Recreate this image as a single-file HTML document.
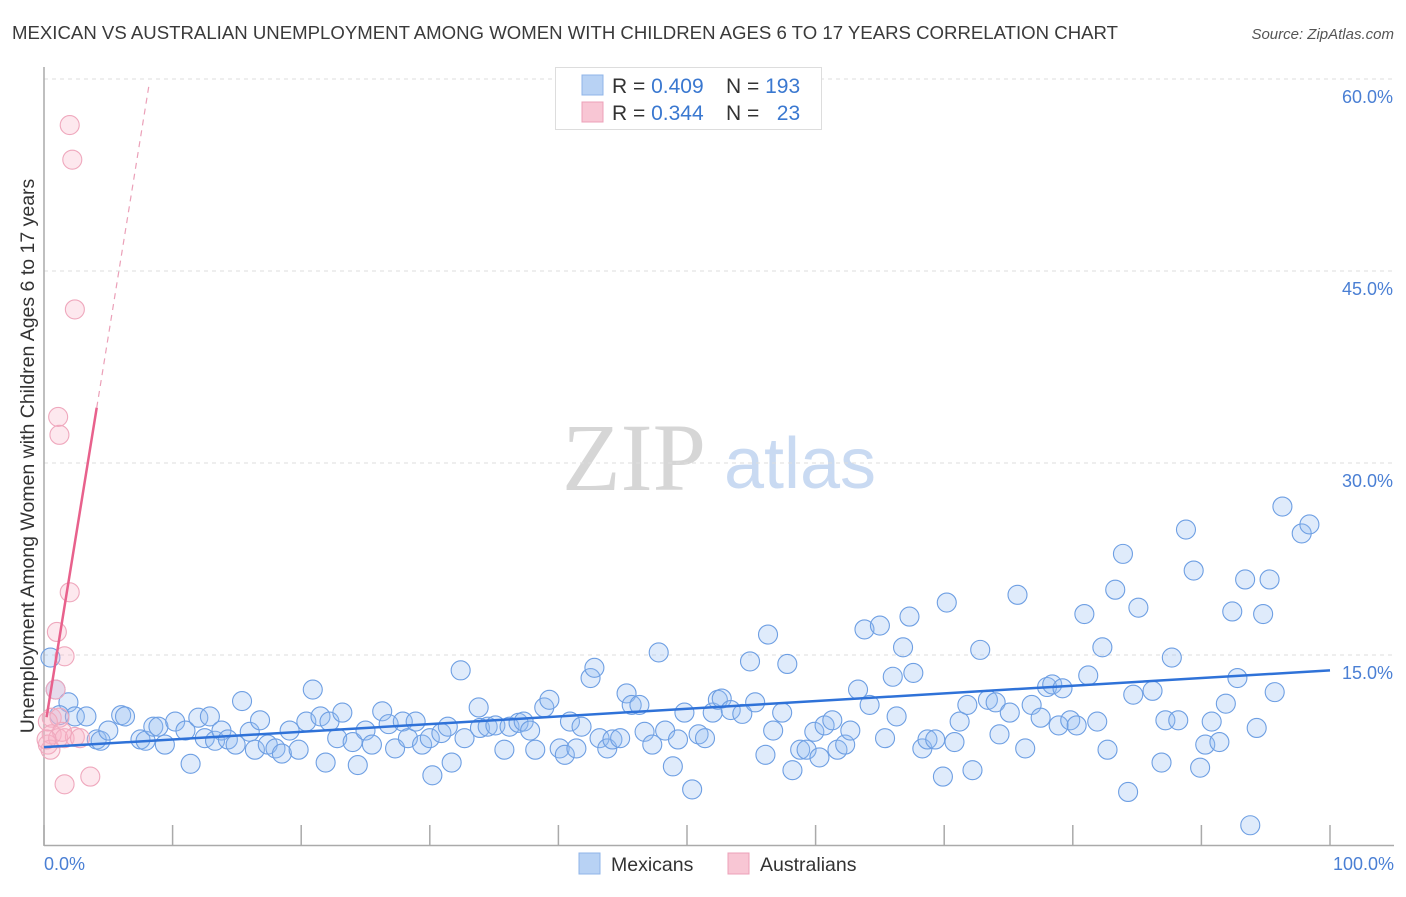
<!DOCTYPE html>
<html><head><meta charset="utf-8"><style>
html,body{margin:0;padding:0;background:#fff;}
body{width:1406px;height:892px;overflow:hidden;font-family:"Liberation Sans",sans-serif;}
</style></head><body>
<svg id="chart" width="1406" height="892" xmlns="http://www.w3.org/2000/svg">
<text x="12" y="39" font-size="18" fill="#3a3a3a" textLength="1106" lengthAdjust="spacingAndGlyphs">MEXICAN VS AUSTRALIAN UNEMPLOYMENT AMONG WOMEN WITH CHILDREN AGES 6 TO 17 YEARS CORRELATION CHART</text>
<text x="1394" y="39" font-size="15" fill="#555" font-style="italic" text-anchor="end">Source: ZipAtlas.com</text>
<g>
<text x="634" y="490" font-size="96" fill="#d6d6d6" text-anchor="middle" font-family="Liberation Serif,serif">ZIP</text>
<text x="800" y="488" font-size="72" fill="#c9daf2" text-anchor="middle">atlas</text>
</g>
<g id="grid"></g>
<g id="axes"></g>
<g id="pts"></g>
<g id="trend"></g>
<text transform="translate(34,456) rotate(-90)" font-size="19.5" fill="#333" text-anchor="middle">Unemployment Among Women with Children Ages 6 to 17 years</text>
<text x="44" y="870" font-size="18" fill="#4a7fd4">0.0%</text>
<text x="1394" y="870" font-size="18" fill="#4a7fd4" text-anchor="end">100.0%</text>
<g>
<rect x="555.5" y="67.5" width="266" height="62" fill="#fff" stroke="#ddd"/>
<rect x="582" y="75" width="21" height="20" fill="#b8d2f4" stroke="#8fb4e8"/>
<rect x="582" y="102" width="21" height="20" fill="#f8c6d4" stroke="#eca0b8"/>
<text x="612" y="93" font-size="21" fill="#333">R = <tspan fill="#3a78d0">0.409</tspan></text>
<text x="726" y="93" font-size="21" fill="#333">N = <tspan fill="#3a78d0">193</tspan></text>
<text x="612" y="120" font-size="21" fill="#333">R = <tspan fill="#3a78d0">0.344</tspan></text>
<text x="726" y="120" font-size="21" fill="#333">N = <tspan fill="#3a78d0">&#160;&#160;23</tspan></text>
</g>
<g>
<rect x="579" y="853" width="21" height="21" fill="#b8d2f4" stroke="#8fb4e8"/>
<text x="611" y="871" font-size="19.5" fill="#333">Mexicans</text>
<rect x="728" y="853" width="21" height="21" fill="#f8c6d4" stroke="#eca0b8"/>
<text x="760" y="871" font-size="19.5" fill="#333">Australians</text>
</g>
</svg>
<script>
const yTicks=[15,30,45,60];
const yTickLabels=["15.0%","30.0%","45.0%","60.0%"];
const xTicks=[0,10,20,30,40,50,60,70,80,90,100];
const mexX=[0.5,0.9,1.9,1.2,2.4,3.3,4.1,4.4,5.0,6.0,6.3,7.5,7.9,8.5,8.9,9.4,10.2,11.0,11.4,12.0,12.5,12.9,13.3,13.8,14.3,14.9,15.4,16.0,16.4,16.8,17.4,18.0,18.5,19.1,19.8,20.4,20.9,21.5,21.9,22.2,22.8,23.2,24.0,24.4,25.0,25.5,26.3,26.8,27.3,27.9,28.3,28.9,29.4,30.0,30.2,30.9,31.4,31.7,32.4,32.7,33.8,33.9,34.5,35.1,35.8,36.2,36.9,37.3,37.8,38.2,38.9,39.3,40.1,40.5,40.9,41.4,41.8,42.5,42.8,43.2,43.8,44.2,44.8,45.3,45.7,46.3,46.7,47.3,47.8,48.3,48.9,49.3,49.8,50.4,50.9,51.4,52.0,52.4,52.7,53.4,54.3,54.9,55.3,56.1,56.3,56.7,57.4,57.8,58.2,58.8,59.3,59.9,60.3,60.7,61.3,61.7,62.3,62.7,63.3,63.8,64.2,65.0,65.4,66.0,66.3,66.8,67.3,67.6,68.3,68.7,69.3,69.9,70.2,70.8,71.2,71.8,72.2,72.8,73.4,74.0,74.3,75.1,75.7,76.3,76.8,77.5,78.0,78.4,78.9,79.2,79.8,80.3,80.9,81.2,81.9,82.3,82.7,83.3,83.9,84.3,84.7,85.1,86.2,86.9,87.2,87.7,88.2,88.8,89.4,89.9,90.3,90.8,91.4,91.9,92.4,92.8,93.4,93.8,94.3,94.8,95.3,95.7,96.3,97.8,98.4];
const mexY=[14.8,12.3,11.3,10.3,10.2,10.2,8.4,8.3,9.1,10.3,10.2,8.4,8.3,9.4,9.4,8.0,9.8,9.1,6.5,10.1,8.5,10.2,8.3,9.1,8.4,8.0,11.4,9.0,7.6,9.9,8.0,7.7,7.3,9.1,7.6,9.8,12.3,10.2,6.6,9.8,8.5,10.5,8.2,6.4,9.1,8.0,10.6,9.6,7.7,9.8,8.5,9.8,8.0,8.5,5.6,8.9,9.4,6.6,13.8,8.5,10.9,9.3,9.4,9.5,7.6,9.4,9.7,9.8,9.1,7.6,10.9,11.5,7.7,7.2,9.8,7.7,9.4,13.2,14.0,8.5,7.7,8.4,8.5,12.0,11.1,11.1,9.0,8.0,15.2,9.1,6.3,8.4,10.5,4.5,8.8,8.5,10.5,11.5,11.6,10.7,10.4,14.5,11.3,7.2,16.6,9.1,10.5,14.3,6.0,7.6,7.6,9.0,7.0,9.5,9.9,7.6,8.0,9.1,12.3,17.0,11.1,17.3,8.5,13.3,10.2,15.6,18.0,13.6,7.7,8.4,8.4,5.5,19.1,8.2,9.8,11.1,6.0,15.4,11.5,11.3,8.8,10.5,19.7,7.7,11.1,10.1,12.5,12.7,9.5,12.4,9.9,9.5,18.2,13.4,9.8,15.6,7.6,20.1,22.9,4.3,11.9,18.7,12.2,6.6,9.9,14.8,9.9,24.8,21.6,6.2,8.0,9.8,8.2,11.2,18.4,13.2,20.9,1.7,9.3,18.2,20.9,12.1,26.6,24.5,25.2];
const ausX=[2.0,2.2,2.4,1.1,1.2,2.0,1.0,1.6,0.9,0.6,1.2,0.3,0.6,0.3,0.5,1.1,1.6,2.4,1.4,0.2,3.6,1.6,2.8];
const ausY=[56.4,53.7,42.0,33.6,32.2,19.9,16.8,14.9,12.3,10.1,10.1,9.8,8.8,8.0,7.6,8.5,8.5,8.6,9.0,8.4,5.5,4.9,8.5];
const mexTrend=[7.8,13.8];
const ausTrend={intercept:8.9,slope:6.2,solidEnd:4.1,dashEnd:8.2};
const NS="http://www.w3.org/2000/svg";
const L=44,R=1330,B=847,T=79;
const sx=v=>L+(R-L)*v/100;
const sy=v=>B-(B-T)*v/60;
function mk(tag,attrs,parent){const e=document.createElementNS(NS,tag);for(const k in attrs)e.setAttribute(k,attrs[k]);parent.appendChild(e);return e;}
const grid=document.getElementById('grid'),axes=document.getElementById('axes'),pts=document.getElementById('pts'),trend=document.getElementById('trend');
yTicks.forEach((t,i)=>{
 const g=mk('line',{x1:L,x2:1394,y1:sy(t),y2:sy(t),stroke:'#ddd','stroke-dasharray':'4,4'},grid);
 
 
 const tx=mk('text',{x:1393,y:sy(t)+24,'font-size':18,fill:'#4a7fd4','text-anchor':'end'},grid);
 tx.textContent=yTickLabels[i];
 
 
});
const ya=mk('line',{x1:L,x2:L,y1:67,y2:846,stroke:'#aaa','stroke-width':1.5},axes);


const xa=mk('line',{x1:L,x2:1394,y1:845.5,y2:845.5,stroke:'#aaa','stroke-width':1.5},axes);


xTicks.forEach(t=>{
 const k=mk('line',{x1:sx(t),x2:sx(t),y1:825,y2:845,stroke:'#aaa','stroke-width':1.5},axes);
 
 
});
mexX.forEach((x,i)=>{
 const c=mk('circle',{cx:sx(x),cy:sy(mexY[i]),r:9.5,fill:'rgba(150,188,242,0.3)',stroke:'#6e9fe3','stroke-width':1.1},pts);
 
 
});
ausX.forEach((x,i)=>{
 const c=mk('circle',{cx:sx(x),cy:sy(ausY[i]),r:9.5,fill:'rgba(248,180,200,0.3)',stroke:'#efa8bd','stroke-width':1.1},pts);
 
 
});
const bl=mk('line',{x1:sx(0),y1:sy(mexTrend[0]),x2:sx(100),y2:sy(mexTrend[1]),stroke:'#2f72d8','stroke-width':2.5},trend);


const af=x=>ausTrend.intercept+ausTrend.slope*x;
const ps=mk('line',{x1:sx(0.2),y1:sy(af(0.2)),x2:sx(ausTrend.solidEnd),y2:sy(af(ausTrend.solidEnd)),stroke:'#e8618c','stroke-width':2.5},trend);


const pd=mk('line',{x1:sx(ausTrend.solidEnd),y1:sy(af(ausTrend.solidEnd)),x2:sx(ausTrend.dashEnd),y2:sy(af(ausTrend.dashEnd)),stroke:'#eba0b8','stroke-width':1.2,'stroke-dasharray':'6,5'},trend);


</script>
</body></html>
